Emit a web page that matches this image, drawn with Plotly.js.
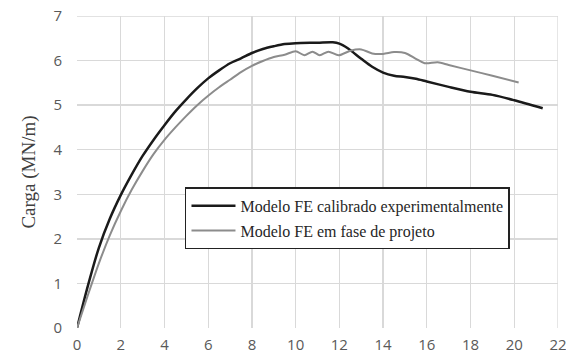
<!DOCTYPE html>
<html>
<head>
<meta charset="utf-8">
<script src="https://cdn.plot.ly/plotly-3.0.1.min.js"></script>
<style>html,body{margin:0;padding:0;background:#fff;}#chart{width:566px;height:361px;}</style>
</head>
<body>
<div id="chart"></div>
<script>
// Modelo FE calibrado experimentalmente
const calibX = [0, 0.5, 1, 1.5, 2, 2.5, 3, 3.5, 4, 4.5, 5, 5.5, 6, 6.5, 7, 7.5, 8, 8.5, 9, 9.5, 10, 11, 11.7, 12, 12.4, 13, 13.5, 14, 14.5, 15, 15.5, 16, 17, 18, 19, 20, 21.3];
const calibY = [0, 0.95, 1.8, 2.45, 2.98, 3.44, 3.86, 4.22, 4.55, 4.86, 5.13, 5.38, 5.6, 5.78, 5.94, 6.05, 6.17, 6.26, 6.32, 6.37, 6.39, 6.40, 6.41, 6.38, 6.27, 6.04, 5.86, 5.73, 5.66, 5.63, 5.59, 5.53, 5.41, 5.30, 5.23, 5.11, 4.93];
// Modelo FE em fase de projeto
const projX = [0, 0.5, 1, 1.5, 2, 2.5, 3, 3.5, 4, 4.5, 5, 5.5, 6, 6.5, 7, 7.5, 8, 8.5, 9, 9.5, 10, 10.4, 10.77, 11.1, 11.5, 11.97, 12.5, 13, 13.5, 14, 14.5, 15, 15.5, 15.9, 16.5, 17, 18, 19, 20.2];
const projY = [0, 0.74, 1.45, 2.08, 2.62, 3.1, 3.52, 3.9, 4.22, 4.5, 4.76, 5.0, 5.21, 5.4, 5.57, 5.74, 5.88, 5.99, 6.08, 6.13, 6.21, 6.12, 6.20, 6.12, 6.20, 6.12, 6.22, 6.25, 6.16, 6.15, 6.19, 6.17, 6.04, 5.94, 5.96, 5.90, 5.78, 5.66, 5.51];
const seriesNames = ['Modelo FE calibrado experimentalmente', 'Modelo FE em fase de projeto'];
const xTicks = [0, 2, 4, 6, 8, 10, 12, 14, 16, 18, 20, 22];
const yTicks = [0, 1, 2, 3, 4, 5, 6, 7];

const traces = [
  {x: calibX, y: calibY, mode: 'lines', name: seriesNames[0], legendgroup: 'a',
   line: {color: '#1a1a1a', width: 2.5, shape: 'spline', smoothing: 0.8}},
  {x: projX, y: projY, mode: 'lines', name: seriesNames[1], legendgroup: 'b',
   line: {color: '#8c8c8c', width: 2, shape: 'spline', smoothing: 0.8}}
];

const layout = {
  width: 566, height: 361,
  margin: {l: 77, r: 8, t: 16, b: 33, pad: 0},
  paper_bgcolor: '#ffffff', plot_bgcolor: '#ffffff',
  showlegend: true,
  legend: {
    x: 0.2245, y: 0.451, xanchor: 'left', yanchor: 'top',
    bgcolor: '#ffffff', bordercolor: '#222222', borderwidth: 1.5,
    font: {family: 'Liberation Serif, Times New Roman, serif', size: 16, color: '#262626'},
    traceorder: 'grouped', tracegroupgap: 1, itemwidth: 44
  },
  xaxis: {
    range: [0, 22], tickvals: xTicks, ticktext: xTicks.map(String),
    showgrid: true, gridcolor: '#d9d9d9', gridwidth: 1.3,
    zeroline: false, showline: false, ticks: '', ticklabelstandoff: 6,
    ticklabeloverflow: 'allow',
    tickfont: {family: 'Open Sans, sans-serif', size: 15, color: '#595959'},
    fixedrange: true
  },
  yaxis: {
    range: [0, 7], tickvals: yTicks, ticktext: yTicks.map(String),
    showgrid: true, gridcolor: '#d9d9d9', gridwidth: 1.3,
    zeroline: false, showline: false, ticks: '', ticklabelstandoff: 14,
    tickfont: {family: 'Open Sans, sans-serif', size: 15, color: '#595959'},
    title: {text: 'Carga (MN/m)', standoff: 12,
            font: {family: 'Liberation Serif, Times New Roman, serif', size: 19, color: '#404040'}},
    fixedrange: true
  },
  shapes: [
    {type: 'line', xref: 'x', yref: 'paper', x0: 22, x1: 22, y0: 0, y1: 1, line: {color: '#d9d9d9', width: 1.3}},
    {type: 'line', xref: 'paper', yref: 'y', x0: 0, x1: 1, y0: 7, y1: 7, line: {color: '#d9d9d9', width: 1.3}}
  ]
};

Plotly.newPlot('chart', traces, layout, {displayModeBar: false, staticPlot: true});
</script>
</body>
</html>
